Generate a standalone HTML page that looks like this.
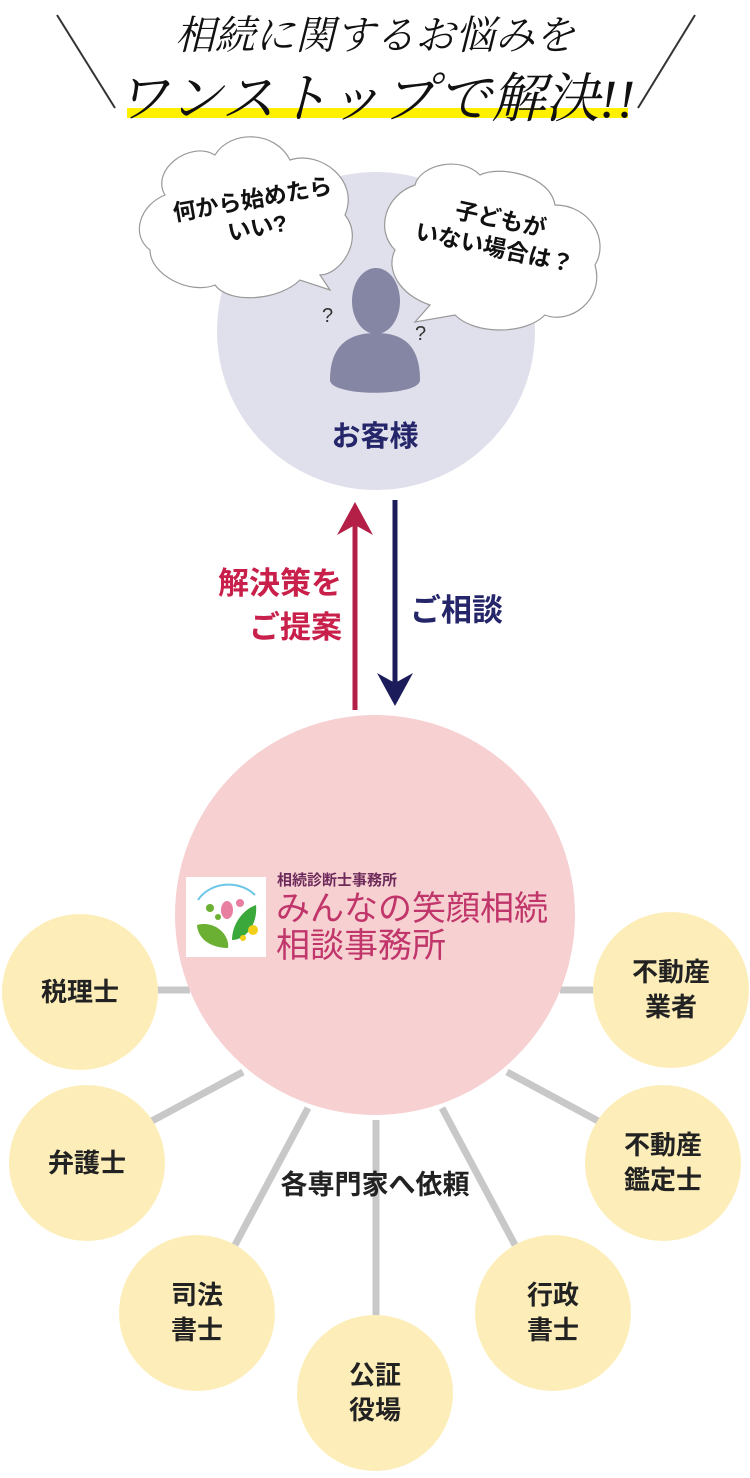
<!DOCTYPE html>
<html><head><meta charset="utf-8"><style>
body{margin:0;width:750px;height:1478px;background:#fff;overflow:hidden;position:relative;font-family:"Liberation Sans","Noto Sans CJK JP",sans-serif}
.a{position:absolute}
.h{font-family:"Liberation Serif","Noto Serif CJK SC",serif;font-style:italic;color:#111;white-space:nowrap}
.y{position:absolute;background:#fdeeb9;border-radius:50%;width:156px;height:156px;display:flex;align-items:center;justify-content:center;text-align:center;font-weight:bold;font-size:26px;line-height:35px;color:#222}
</style></head><body>
<svg class="a" style="left:0;top:0" width="750" height="1478">
<line x1="57" y1="15" x2="115" y2="108" stroke="#333" stroke-width="2"/>
<line x1="695" y1="15" x2="638" y2="108" stroke="#333" stroke-width="2"/>
<rect x="127" y="108" width="501" height="10" fill="#fff000"/>
<circle cx="376" cy="331" r="159" fill="#e0e0ec"/>
<g fill="#fff" stroke="#999" stroke-width="1.2">
<path d="M165 195 C150 170 190 140 215 155 C230 130 275 130 290 160 C320 150 360 180 345 215 C365 240 340 275 320 275 L330 290 L300 280 C280 300 230 305 215 285 C190 295 150 275 150 250 C130 235 140 205 165 195Z"/>
<path d="M415 185 C420 165 460 155 480 175 C500 165 550 175 555 205 C590 205 610 240 595 265 C605 300 570 325 545 315 C525 335 475 335 455 315 L415 322 L430 305 C400 295 385 270 395 250 C375 230 385 195 415 185Z"/>
</g>
<g fill="#8586a3"><ellipse cx="376" cy="301" rx="24" ry="33"/><path d="M330 380 C330 340 355 333 376 333 C397 333 420 340 420 380 C420 397 330 397 330 380Z"/></g>
<text x="322" y="322" font-size="20" fill="#333">?</text><text x="415" y="340" font-size="20" fill="#333">?</text>
<line x1="355" y1="710" x2="355" y2="520" stroke="#b41f48" stroke-width="5"/>
<path d="M337 535 L355 502 L373 535 L355 525Z" fill="#b41f48"/>
<line x1="395" y1="500" x2="395" y2="690" stroke="#1c1c5a" stroke-width="5"/>
<path d="M377 673 L395 706 L413 673 L395 683Z" fill="#1c1c5a"/>
<g stroke="#c8c8c8" stroke-width="7">
<line x1="150" y1="990" x2="190" y2="990"/><line x1="560" y1="990" x2="600" y2="990"/>
<line x1="243" y1="1072" x2="150" y2="1122"/><line x1="507" y1="1072" x2="600" y2="1122"/>
<line x1="308" y1="1108" x2="235" y2="1245"/><line x1="442" y1="1108" x2="515" y2="1245"/>
<line x1="376" y1="1120" x2="376" y2="1318"/>
</g>
<circle cx="375" cy="915" r="200" fill="#f7d0d2"/>
<rect x="186" y="877" width="80" height="80" fill="#fff"/>
<path d="M198 900 A35 30 0 0 1 255 895" fill="none" stroke="#6cc6e8" stroke-width="2"/>
<path d="M197 925 C215 920 230 935 228 948 C212 948 198 940 197 925Z" fill="#6bb033"/>
<path d="M256 905 C258 925 245 940 232 940 C232 925 242 910 256 905Z" fill="#3aa83a"/>
<ellipse cx="227" cy="910" rx="6" ry="9" fill="#e87fa0"/><circle cx="240" cy="903" r="4" fill="#e87fa0"/>
<circle cx="210" cy="908" r="4" fill="#6bb033"/><circle cx="218" cy="917" r="3" fill="#6bb033"/>
<circle cx="253" cy="930" r="5" fill="#f2d01a"/><circle cx="243" cy="938" r="3" fill="#f2d01a"/>
</svg>
<div class="a h" style="left:0;width:750px;text-align:center;top:4px;font-size:40px">相続に関するお悩みを</div>
<div class="a h" style="left:0;width:750px;text-align:center;top:56px;font-size:54px">ワンストップで解決!!</div>
<div class="a" style="left:150px;top:185px;width:210px;text-align:center;font-size:23px;line-height:29px;transform:rotate(-10deg);color:#111;font-weight:bold">何から始めたら<br>いい?</div>
<div class="a" style="left:390px;top:205px;width:215px;text-align:center;font-size:23px;line-height:29px;transform:rotate(12deg);color:#111;font-weight:bold">子どもが<br>いない場合は？</div>
<div class="a" style="left:0;width:750px;text-align:center;top:413px;font-size:29px;font-weight:bold;color:#25256a">お客様</div>
<div class="a" style="left:150px;width:192px;text-align:right;top:562px;font-size:31px;line-height:44px;font-weight:bold;color:#c8204a">解決策を<br>ご提案</div>
<div class="a" style="left:410px;top:585px;font-size:31px;font-weight:bold;color:#25256a">ご相談</div>
<div class="a" style="left:277px;top:869px;font-size:15px;color:#6d2a5a;font-weight:bold">相続診断士事務所</div>
<div class="a" style="left:276px;top:891px;font-size:34px;line-height:37px;color:#c0356a">みんなの笑顔相続<br>相談事務所</div>
<div class="a" style="left:0;width:750px;text-align:center;top:1163px;font-size:27px;font-weight:bold;color:#222">各専門家へ依頼</div>
<div class="y" style="left:2px;top:914px">税理士</div>
<div class="y" style="left:9px;top:1085px">弁護士</div>
<div class="y" style="left:119px;top:1235px">司法<br>書士</div>
<div class="y" style="left:297px;top:1315px">公証<br>役場</div>
<div class="y" style="left:475px;top:1235px">行政<br>書士</div>
<div class="y" style="left:585px;top:1085px">不動産<br>鑑定士</div>
<div class="y" style="left:593px;top:912px">不動産<br>業者</div>
</body></html>
